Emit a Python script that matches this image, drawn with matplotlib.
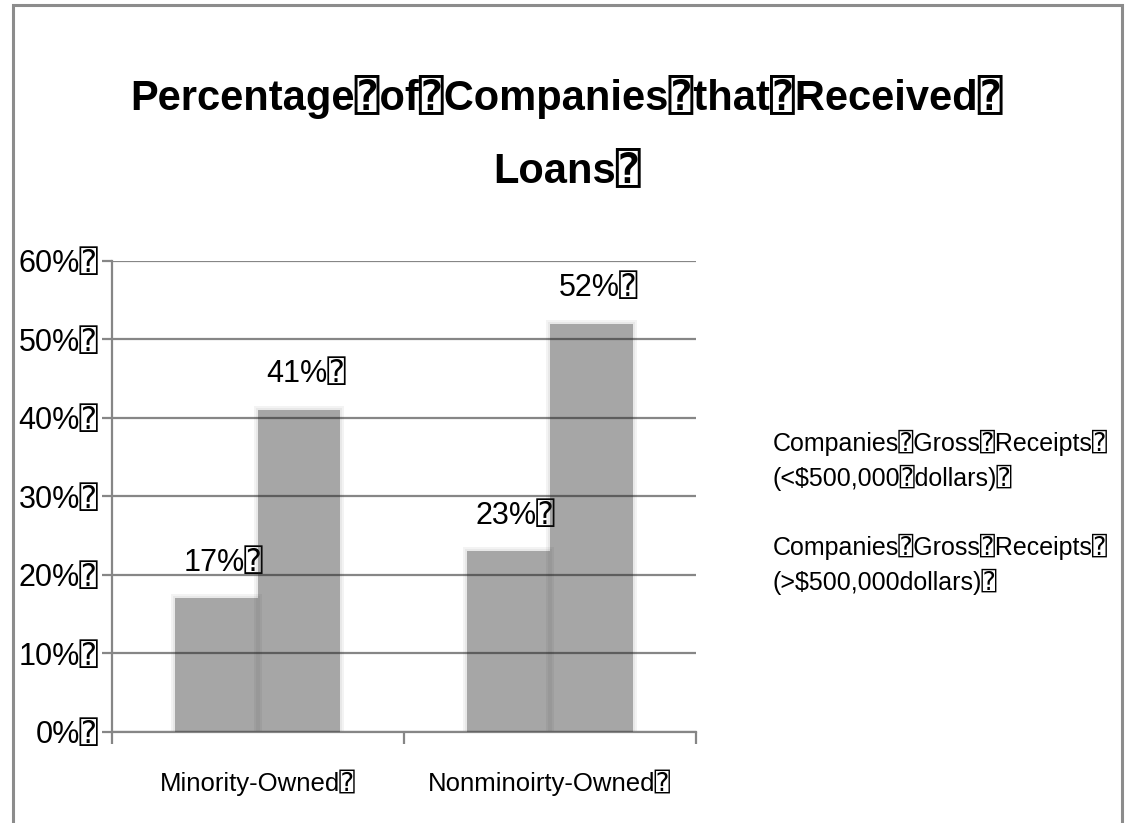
import numpy as np
from matplotlib import pyplot as plt
from matplotlib.patches import Rectangle

# values shown on the bars (percent)
categories = ['Minority-Owned', 'Nonminoirty-Owned']
small_receipts = [17, 23]
large_receipts = [41, 52]
series_names = ['Companies\u2370Gross\u2370Receipts\u2370\n(<$500,000\u2370dollars)\u2370',
                'Companies\u2370Gross\u2370Receipts\u2370\n(>$500,000dollars)\u2370']
yticks = [0, 10, 20, 30, 40, 50, 60]

BOX = '\u2370'
plt.rcParams['font.family'] = ['Liberation Sans', 'DejaVu Sans', 'DejaVu Sans Mono']

fig = plt.figure(figsize=(11.25, 8.23), dpi=100)
W, H = 1125.0, 823.0

# outer frame of the chart area
fig.patches.append(Rectangle((13 / W, -0.05), 1109 / W, 818 / H + 0.05,
                             transform=fig.transFigure, fill=False,
                             edgecolor='#8c8c8c', linewidth=2.2, clip_on=False))

ax = fig.add_axes([111.5 / W, 1 - 732 / H, 584.5 / W, 471.3 / H])

x = np.arange(len(categories))
width = 0.283
px_x = 1 / 292.0
px_y = 0.6 / 471.3

series = [small_receipts, large_receipts]
offsets = [-width / 2, width / 2]
containers = []
for vals, off in zip(series, offsets):
    h = np.array(vals) / 100.0
    # soft halo round each bar
    for k in (4, 2):
        ax.bar(x + off, h + k * px_y, width=width + 2 * k * px_x,
               color='#202020', alpha=0.05, linewidth=0, zorder=2)
    c = ax.bar(x + off, h, width=width, color='#202020', alpha=0.33,
               linewidth=0, zorder=3)
    containers.append(c)
    texts = ax.bar_label(c, labels=[f'{v}%{BOX}' for v in vals], padding=15,
                         fontsize=22, color='black')
    for t in texts:
        t.xyann = (5, t.xyann[1])

ax.set_xlim(-0.5, 1.5)
ax.set_ylim(0, 0.6)
ax.set_axisbelow(True)
ax.yaxis.grid(True, color='#868686', linewidth=1.6, zorder=1)

ax.set_yticks([t / 100 for t in yticks])
ax.set_yticklabels([f'{t}%{BOX}' for t in yticks], fontsize=22)
ax.tick_params(axis='y', length=7.5, width=1.6, color='#868686', pad=2)

ax.set_xticks(x)
ax.set_xticklabels([c + BOX for c in categories], fontsize=18.5)
ax.set_xticks([-0.5, 0.5, 1.5], minor=True)
ax.tick_params(axis='x', which='major', length=0, pad=27)
ax.tick_params(axis='x', which='minor', length=8.5, width=1.6, color='#868686')

for s in ('top', 'right'):
    ax.spines[s].set_visible(False)
for s in ('left', 'bottom'):
    ax.spines[s].set_color('#868686')
    ax.spines[s].set_linewidth(1.6)

leg = ax.legend(containers, series_names, loc='upper left',
                bbox_to_anchor=(773 / W, 1 - 430 / H),
                bbox_transform=fig.transFigure, frameon=False,
                handlelength=0, handletextpad=0, borderpad=0,
                borderaxespad=0, labelspacing=1.7, fontsize=18)
for hnd in leg.legend_handles:
    hnd.set_visible(False)
for t in leg.get_texts():
    t.set_linespacing(1.42)

fig.text(0.504, 1 - 110 / H, f'Percentage{BOX}of{BOX}Companies{BOX}that{BOX}Received{BOX}',
         ha='center', va='baseline', fontsize=30, fontweight='bold')
fig.text(0.504, 1 - 182 / H, f'Loans{BOX}',
         ha='center', va='baseline', fontsize=30, fontweight='bold')

fig.savefig('out.png', dpi=100)
